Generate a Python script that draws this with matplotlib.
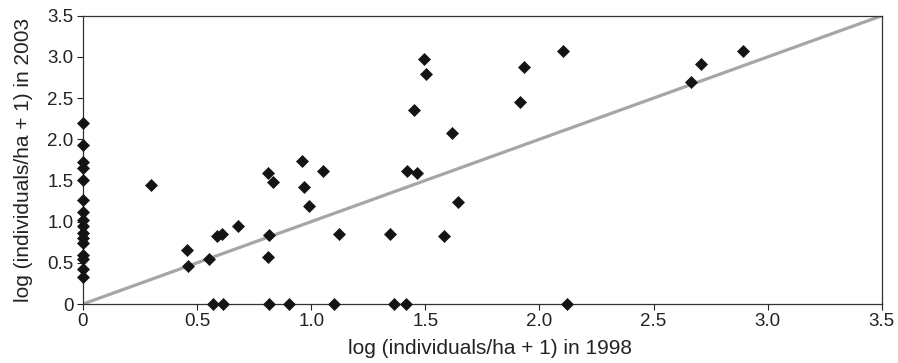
import matplotlib
matplotlib.use("Agg")
import matplotlib.pyplot as plt
from matplotlib.ticker import FuncFormatter
import numpy as np

plt.rcParams['font.family'] = ['Liberation Sans', 'DejaVu Sans']

# log(individuals/ha + 1) in 1998 and 2003
x_1998 = [0, 0, 0, 0, 0, 0, 0, 0, 0, 0, 0, 0, 0, 0, 0, 0,
          0.30, 0.457, 0.46, 0.55, 0.586, 0.61, 0.678, 0.571, 0.615,
          0.81, 0.834, 0.817, 0.81, 0.814, 0.901, 0.961, 0.97, 0.99, 1.053,
          1.123, 1.10, 1.345, 1.363, 1.415, 1.418, 1.462, 1.452, 1.494, 1.503,
          1.618, 1.642, 1.583, 1.915, 1.932, 2.105, 2.122, 2.663, 2.707, 2.891]
y_2003 = [2.20, 1.93, 1.72, 1.65, 1.51, 1.26, 1.12, 1.02, 0.95, 0.86, 0.80, 0.74, 0.60, 0.55, 0.42, 0.33,
          1.44, 0.66, 0.46, 0.55, 0.825, 0.85, 0.947, 0.0, 0.0,
          1.59, 1.48, 0.84, 0.57, 0.0, 0.0, 1.74, 1.42, 1.19, 1.61,
          0.85, 0.0, 0.85, 0.0, 0.0, 1.61, 1.59, 2.35, 2.97, 2.79,
          2.08, 1.24, 0.83, 2.45, 2.88, 3.07, 0.0, 2.69, 2.91, 3.07]

line_x = [0, 3.5]
line_y = [0, 3.5]
ticks = [0, 0.5, 1.0, 1.5, 2.0, 2.5, 3.0, 3.5]

fig = plt.figure(figsize=(8.98, 3.63), dpi=100)
ax = fig.add_axes([0.0924, 0.1625, 0.982 - 0.0924, 0.9567 - 0.1625])

ax.plot(line_x, line_y, color='#a6a6a6', lw=2.3, zorder=2, solid_capstyle='butt')
ax.plot(x_1998, y_2003, linestyle='none', marker='D', ms=6.4, mfc='#141414', mec='#141414',
        mew=0.5, zorder=3, clip_on=False)

ax.set_xlim(0, 3.5)
ax.set_ylim(0, 3.5)
ax.set_xticks(ticks)
ax.set_yticks(ticks)
fmt = FuncFormatter(lambda v, p: '0' if abs(v) < 1e-9 else f'{v:.1f}')
ax.xaxis.set_major_formatter(fmt)
ax.yaxis.set_major_formatter(fmt)
ax.tick_params(direction='out', length=4.3, width=0.8, labelsize=13.5, colors='#222222', pad=2.5)

for s in ax.spines.values():
    s.set_color('#333333')
    s.set_linewidth(0.9)

ax.set_xlabel('log (individuals/ha + 1) in 1998', fontsize=15, color='#222222', labelpad=6)
ax.xaxis.label.set_x(0.51)
ax.set_ylabel('log (individuals/ha + 1) in 2003', fontsize=15, color='#222222', labelpad=10)

fig.savefig('out.png', dpi=100)
